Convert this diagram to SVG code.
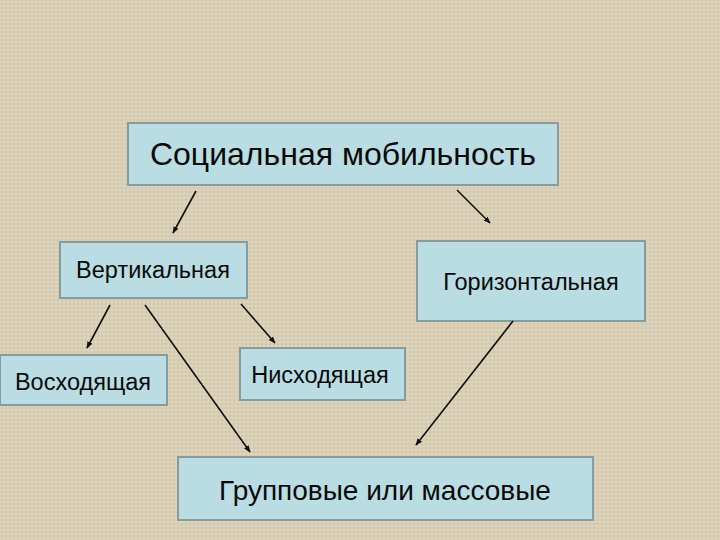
<svg xmlns="http://www.w3.org/2000/svg" width="720" height="540" viewBox="0 0 720 540">
<defs>
<pattern id="tex" width="8" height="8" patternUnits="userSpaceOnUse">
<rect width="8" height="8" fill="#d8ceb4"/>
<path d="M0 2H8M0 6H8" stroke="#e6dec8" stroke-width="1"/>
<path d="M2 0V8M6 0V8" stroke="#c6bca2" stroke-width="0.6"/>
</pattern>
<marker id="ah" viewBox="0 0 10 10" refX="9" refY="5" markerWidth="7" markerHeight="7" orient="auto" markerUnits="userSpaceOnUse">
<path d="M0 1L10 5L0 9Z" fill="#111"/>
</marker>
<style>
.box{fill:#b9dde2;stroke:#879c9c;stroke-width:2}
.t{font-family:"Liberation Sans",Arial,sans-serif;fill:#0a0a0a;text-anchor:middle}
.c{stroke:#111;stroke-width:1.6;fill:none;marker-end:url(#ah)}
</style>
</defs>
<rect width="720" height="540" fill="url(#tex)"/>
<g id="social"><rect class="box" x="128" y="123" width="430" height="62"/><text class="t" x="343" y="165" font-size="32">Социальная мобильность</text></g>
<g id="vertical"><rect class="box" x="60" y="242" width="187" height="56"/><text class="t" x="153" y="278" font-size="23.5">Вертикальная</text></g>
<g id="horizontal"><rect class="box" x="417" y="241" width="228" height="80"/><text class="t" x="531" y="290" font-size="23.5">Горизонтальная</text></g>
<g id="ascending"><rect class="box" x="0" y="355" width="167" height="50"/><text class="t" x="83" y="390" font-size="23.5">Восходящая</text></g>
<g id="descending"><rect class="box" x="240" y="348" width="165" height="52"/><text class="t" x="320" y="383" font-size="23.5">Нисходящая</text></g>
<g id="group"><rect class="box" x="178" y="457" width="415" height="63"/><text class="t" x="385" y="500" font-size="28">Групповые или массовые</text></g>
<g id="connectors">
<line class="c" x1="196" y1="191" x2="173" y2="233"/>
<line class="c" x1="457" y1="190" x2="490" y2="223"/>
<line class="c" x1="110" y1="305" x2="87" y2="348"/>
<line class="c" x1="241" y1="304" x2="275" y2="343"/>
<line class="c" x1="145" y1="305" x2="250" y2="452"/>
<line class="c" x1="513" y1="321" x2="416" y2="445"/>
</g>
</svg>
